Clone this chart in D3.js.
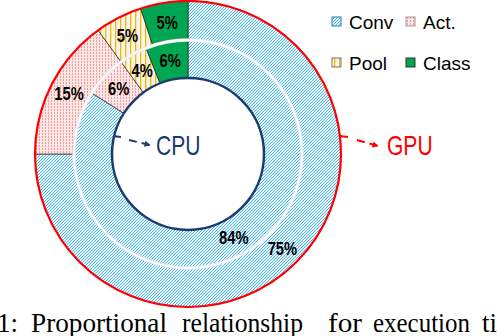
<!DOCTYPE html>
<html>
<head>
<meta charset="utf-8">
<script src="https://cdn.jsdelivr.net/npm/d3@7"></script>
<style>
  body { margin: 0; background: #fff; }
  svg { display: block; }
  .lbl { font-family: "Liberation Sans", Arial, sans-serif; font-weight: bold; font-size: 18px; }
  .leg { font-family: "Liberation Sans", Arial, sans-serif; font-size: 19px; }
</style>
</head>
<body>
<div id="chart"></div>
<script>
// data
var categories = ["Conv", "Act.", "Pool", "Class"];
var cpuValues = [84, 6, 4, 6];   // inner ring
var gpuValues = [75, 15, 5, 5];  // outer ring
var captionWords = ["1:", "Proportional", "relationship", "for", "execution", "ti"];

(function() {
  var width = 504,
    height = 336;

  var svg = d3.select("#chart")
    .append("svg")
    .attr("width", width)
    .attr("height", height);

  var defs = svg.append("defs");

  // conv: blue diagonal hatch
  var pConv = defs.append("pattern")
    .attr("id", "p-conv")
    .attr("width", 3).attr("height", 3)
    .attr("patternUnits", "userSpaceOnUse");
  pConv.append("rect").attr("width", 3).attr("height", 3).attr("fill", "#eaf7fd");
  pConv.append("path")
    .attr("d", "M-1,1 L1,-1 M0,3 L3,0 M2,4 L4,2")
    .attr("stroke", "#22a6e6").attr("stroke-width", 0.8);

  // act: pink dots
  var pAct = defs.append("pattern")
    .attr("id", "p-act")
    .attr("width", 3).attr("height", 3)
    .attr("patternUnits", "userSpaceOnUse");
  pAct.append("rect").attr("width", 3).attr("height", 3).attr("fill", "#fde6e6");
  pAct.append("rect").attr("x", 1).attr("width", 1).attr("height", 2).attr("fill", "#f29a9a");

  // pool: vertical yellow stripes
  var pPool = defs.append("pattern")
    .attr("id", "p-pool")
    .attr("width", 5).attr("height", 5)
    .attr("patternUnits", "userSpaceOnUse");
  pPool.append("rect").attr("width", 5).attr("height", 5).attr("fill", "#f5f4ee");
  pPool.append("rect").attr("x", 2).attr("width", 1.3).attr("height", 5).attr("fill", "#f6b700");

  var fills = d3.scaleOrdinal()
    .domain(categories)
    .range(["url(#p-conv)", "url(#p-act)", "url(#p-pool)", "#00a651"]);

  var cx = 188, cy = 154;
  var rIn = 76, rMid = 114, rOut = 153;

  var g = svg.append("g").attr("transform", "translate(" + cx + "," + cy + ")");

  var pie = d3.pie().sort(null).value(function(d) { return d.v; });

  function ring(values, r0, r1) {
    var data = pie(categories.map(function(c, i) { return { c: c, v: values[i] }; }));
    var arc = d3.arc().innerRadius(r0).outerRadius(r1);
    var grp = g.append("g");
    grp.selectAll("path")
      .data(data)
      .enter().append("path")
      .attr("d", arc)
      .attr("fill", function(d) { return fills(d.data.c); })
      .attr("stroke", "#222")
      .attr("stroke-width", 0.7);
    // narrow bold look: squeeze horizontally
    grp.selectAll("text")
      .data(data)
      .enter().append("text")
      .attr("class", "lbl")
      .attr("text-anchor", "middle")
      .attr("dy", "0.36em")
      .attr("transform", function(d) { return "translate(" + arc.centroid(d) + ") scale(0.82,1)"; })
      .text(function(d) { return d.data.v + "%"; });
  }

  ring(gpuValues, rMid, rOut);
  ring(cpuValues, rIn, rMid);

  // separator between rings
  g.append("circle").attr("r", rMid).attr("fill", "none")
    .attr("stroke", "#e6e6e6").attr("stroke-width", 3.5);
  g.append("circle").attr("r", rMid).attr("fill", "none")
    .attr("stroke", "#fff").attr("stroke-width", 1.8);

  // ring outlines
  g.append("circle").attr("r", rOut).attr("fill", "none")
    .attr("stroke", "#ff0000").attr("stroke-width", 2.2);
  g.append("circle").attr("r", rIn).attr("fill", "#fff")
    .attr("stroke", "#1b3a70").attr("stroke-width", 2.5);

  // arrows
  function marker(id, col) {
    defs.append("marker")
      .attr("id", id)
      .attr("viewBox", "0 0 10 10")
      .attr("refX", 9).attr("refY", 5)
      .attr("markerWidth", 7).attr("markerHeight", 6)
      .attr("markerUnits", "userSpaceOnUse")
      .attr("orient", "auto")
      .append("path").attr("d", "M0,0 L10,5 L0,10 Z").attr("fill", col);
  }
  marker("ar-cpu", "#1b3a70");
  marker("ar-gpu", "#ff0000");

  svg.append("path")
    .attr("d", "M113,136 L121,137 M129,140 L150,145")
    .attr("stroke", "#1b3a70").attr("stroke-width", 2).attr("fill", "none")
    .attr("stroke-dasharray", "8,5")
    .attr("marker-end", "url(#ar-cpu)");
  svg.append("path")
    .attr("d", "M340,136 L349,137 M357,140 L378,146")
    .attr("stroke", "#ff0000").attr("stroke-width", 2).attr("fill", "none")
    .attr("stroke-dasharray", "8,5")
    .attr("marker-end", "url(#ar-gpu)");

  function bigLabel(x, txt, col) {
    svg.append("text")
      .attr("transform", "translate(" + x + ",155) scale(0.78,1)")
      .attr("font-family", "'Liberation Sans', Arial, sans-serif")
      .attr("font-size", 27)
      .attr("fill", col)
      .text(txt);
  }
  bigLabel(156, "CPU", "#1b3a70");
  bigLabel(387, "GPU", "#ff0000");

  // legend, 2 x 2
  var legX = d3.scalePoint().domain([0, 1]).range([332, 406]);
  var legY = d3.scalePoint().domain([0, 1]).range([17, 58]);
  var borders = ["#2f7fc0", "#999", "#777", "#333"];
  var leg = svg.selectAll(".legend")
    .data(categories)
    .enter().append("g")
    .attr("class", "legend")
    .attr("transform", function(d, i) {
      return "translate(" + legX(i % 2) + "," + legY(Math.floor(i / 2)) + ")";
    });
  leg.append("rect")
    .attr("width", 9).attr("height", 9)
    .attr("fill", function(d) { return fills(d); })
    .attr("stroke", function(d, i) { return borders[i]; })
    .attr("stroke-width", 1);
  leg.append("text")
    .attr("class", "leg")
    .attr("x", 17).attr("y", 12)
    .text(function(d) { return d; });

  // caption (cut off at the bottom and right, as in the source), justified words
  var capX = [-3, 31, 182, 328, 373, 482];
  var capW = [21, 136, 121, 34, 97, null];
  svg.selectAll(".cap")
    .data(captionWords)
    .enter().append("text")
    .attr("class", "cap")
    .attr("x", function(d, i) { return capX[i]; })
    .attr("y", 332)
    .attr("font-family", "'Liberation Serif', 'Times New Roman', serif")
    .attr("font-size", 27)
    .attr("fill", "#000")
    .attr("textLength", function(d, i) { return capW[i]; })
    .attr("lengthAdjust", "spacingAndGlyphs")
    .text(function(d) { return d; });
})();
</script>
</body>
</html>
